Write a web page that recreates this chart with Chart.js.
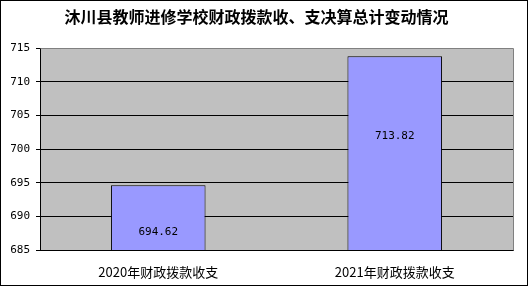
<!DOCTYPE html>
<html>
<head>
<meta charset="utf-8">
<script src="https://cdn.jsdelivr.net/npm/chart.js@4"></script>
<style>
  html, body { margin: 0; padding: 0; background: #fff; }
  #wrap { position: relative; width: 528px; height: 286px; }
</style>
</head>
<body>
<div id="wrap"><canvas id="fundChart" width="528" height="286"></canvas></div>
<script>
const categories = ['2020年财政拨款收支', '2021年财政拨款收支'];
const totals = [694.62, 713.82];
const yTicks = [685, 690, 695, 700, 705, 710, 715];

// plot background, grey top/right border and outer frame
const frame = {
    id: 'frame',
    beforeDraw(chart) {
        const { ctx, chartArea: a } = chart;
        ctx.save();
        ctx.fillStyle = '#fff';
        ctx.fillRect(0, 0, chart.width, chart.height);
        ctx.fillStyle = '#c0c0c0';
        ctx.fillRect(a.left, a.top, a.right - a.left, a.bottom - a.top);
        ctx.restore();
    },
    afterDraw(chart) {
        const { ctx, chartArea: a } = chart;
        ctx.save();
        ctx.lineWidth = 1;
        ctx.strokeStyle = '#808080';
        ctx.beginPath();
        ctx.moveTo(Math.round(a.left) + 0.5, Math.round(a.top) + 0.5);
        ctx.lineTo(Math.round(a.right) + 0.5, Math.round(a.top) + 0.5);
        ctx.lineTo(Math.round(a.right) + 0.5, Math.round(a.bottom) + 0.5);
        ctx.stroke();
        ctx.strokeStyle = '#000';
        ctx.strokeRect(0.5, 0.5, chart.width - 1, chart.height - 1);
        ctx.restore();
    }
};

// value labels inside the bars (Excel puts them low in the bar)
const valueLabels = {
    id: 'valueLabels',
    afterDatasetsDraw(chart) {
        const { ctx } = chart;
        const y = chart.scales.y;
        const labelAt = [687.7, 702.0];
        const meta = chart.getDatasetMeta(0);
        ctx.save();
        ctx.font = '11px "DejaVu Sans Mono"';
        ctx.fillStyle = '#000';
        ctx.textAlign = 'center';
        ctx.textBaseline = 'middle';
        meta.data.forEach((bar, i) => {
            ctx.fillText(totals[i].toFixed(2), bar.x, y.getPixelForValue(labelAt[i]));
        });
        ctx.restore();
    }
};

new Chart(document.getElementById('fundChart'), {
    type: 'bar',
    data: {
        labels: categories,
        datasets: [{
            data: totals,
            backgroundColor: '#9999ff',
            borderColor: '#000',
            borderWidth: 1,
            barPercentage: 0.4,
            categoryPercentage: 1
        }]
    },
    plugins: [frame, valueLabels],
    options: {
        responsive: false,
        animation: false,
        layout: { padding: { left: 0, right: 15, top: 0, bottom: 4 } },
        plugins: {
            legend: { display: false },
            tooltip: { enabled: false },
            title: {
                display: true,
                text: '沐川县教师进修学校财政拨款收、支决算总计变动情况',
                color: '#000',
                font: { family: '"Noto Sans CJK SC"', size: 16, weight: 'bold' },
                padding: { top: 7, bottom: 22 }
            }
        },
        scales: {
            x: {
                grid: { display: false },
                border: { color: '#000' },
                ticks: {
                    color: '#000',
                    padding: 6,
                    font: { family: '"Noto Sans CJK SC"', size: 13 }
                },
                afterFit(scale) { scale.height = 32; }
            },
            y: {
                min: 685,
                max: 715,
                afterBuildTicks(scale) { scale.ticks = yTicks.map(v => ({ value: v })); },
                grid: { color: '#000', tickColor: '#000', tickLength: 4 },
                border: { color: '#000' },
                ticks: {
                    color: '#000',
                    padding: 6,
                    font: { family: '"DejaVu Sans Mono"', size: 11 }
                },
                afterFit(scale) { scale.width = 40; }
            }
        }
    }
});
</script>
</body>
</html>
